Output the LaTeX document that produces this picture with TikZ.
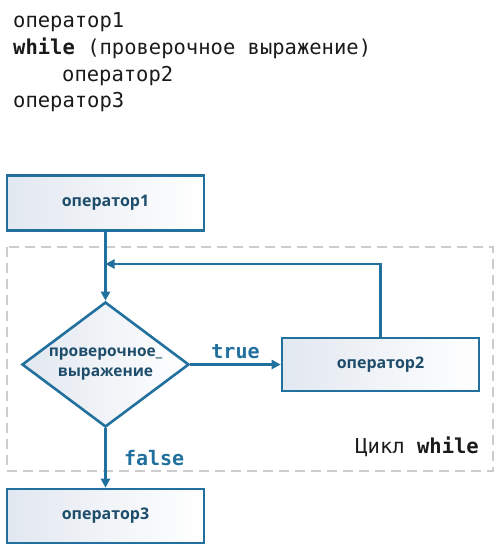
\documentclass[tikz,border=0pt]{standalone}
\usepackage{fontspec}
\setmainfont{Open Sans}
\newfontfamily\codefont{DejaVu Sans Mono}
\usetikzlibrary{shapes.geometric,arrows.meta}
\definecolor{flowline}{HTML}{21709E}
\definecolor{boxtext}{HTML}{1E4D6B}
\definecolor{boxfill}{HTML}{E2E8F0}
\definecolor{frameline}{HTML}{CCCCCC}
\definecolor{codetext}{HTML}{1A1A1A}
\tikzset{
  codeline/.style={anchor=base west, inner sep=0pt, text=codetext, font=\codefont\fontsize{20.5}{24}\selectfont},
  block/.style={draw=flowline, line width=2.6pt, left color=boxfill, right color=white, minimum width=197pt, minimum height=55pt, text=boxtext, font=\bfseries\fontsize{16}{18}\selectfont},
  test/.style={diamond, aspect=1.336, draw=flowline, line width=2.6pt, left color=boxfill, right color=white, minimum width=167pt, minimum height=125pt, inner sep=0pt, align=center, text=boxtext, font=\bfseries\fontsize{15.5}{20}\selectfont},
  flow/.style={draw=flowline, line width=2.4pt, -{Triangle[length=9pt,width=9pt]}},
  branch/.style={text=flowline, font=\codefont\bfseries\fontsize{20}{24}\selectfont}
}
\begin{document}
\begin{tikzpicture}[x=1pt,y=-1pt]
\useasboundingbox (0,0) rectangle (500,545);
\node[codeline] (code1) at (13,28) {оператор1};
\node[codeline] (code2) at (13,55) {\textbf{while} (проверочное выражение)};
\node[codeline] (code3) at (62,82) {оператор2};
\node[codeline] (code4) at (13,108) {оператор3};
\draw[frameline, line width=2.4pt, dash pattern=on 10pt off 6pt] (7,247) rectangle (493,471);
\node[block] (op1) at (105.5,203) {оператор1};
\node[test] (check) at (105.5,364.5) {проверочное\_\\выражение};
\node[block, minimum height=53pt] (op2) at (380.5,364.5) {оператор2};
\node[block, minimum height=54pt] (op3) at (105.5,516) {оператор3};
\node[codeline, anchor=base east] (looplabel) at (479,453) {Цикл \textbf{while}};
\coordinate (back) at (105.5,264);
\path[flow] (op1) -- (check);
\path[flow] (check) -- node[branch, above=1pt] {true} (op2);
\path[flow] (check) -- node[branch, right=14pt] {false} (op3);
\path[flow] (op2.north) |- (back);
\end{tikzpicture}
\end{document}
